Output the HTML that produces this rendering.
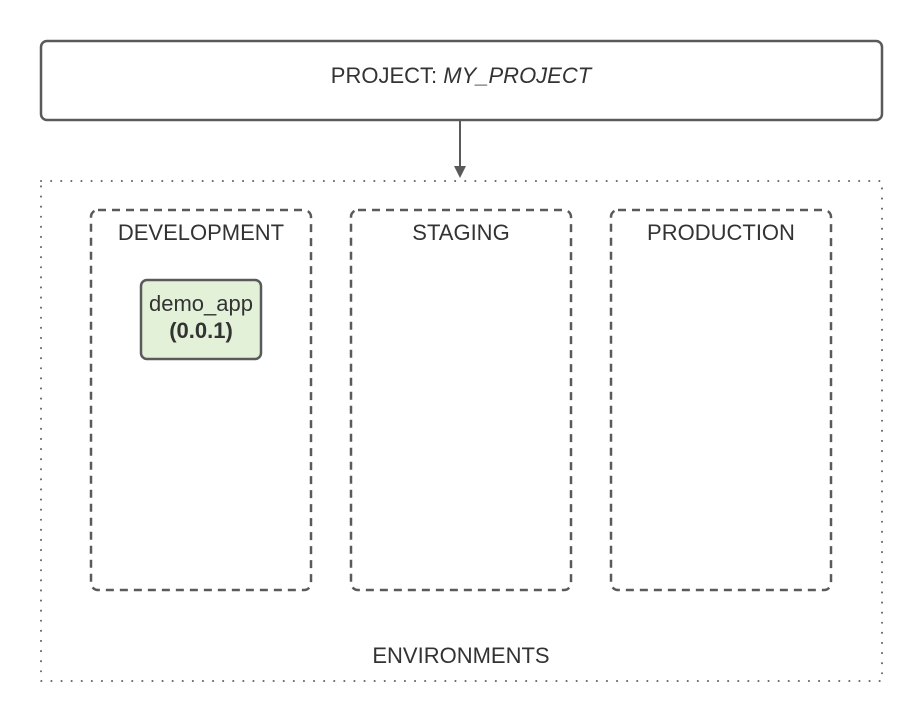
<!DOCTYPE html>
<html><head><style>
body{margin:0;background:#fff;}
svg text{font-family:"Liberation Sans",sans-serif;fill:#333;}
</style></head><body>
<svg width="923" height="722" xmlns="http://www.w3.org/2000/svg">
<rect x="41" y="41" width="841" height="79" rx="6" fill="#fff" stroke="#5a5a5a" stroke-width="2.5"/>
<text x="461" y="83" font-size="22" text-anchor="middle">PROJECT: <tspan font-style="italic">MY_PROJECT</tspan></text>
<line x1="460" y1="121" x2="460" y2="168" stroke="#5a5a5a" stroke-width="2"/>
<polygon points="454,166 466,166 460,178" fill="#5a5a5a"/>
<rect x="41" y="181" width="841" height="500" fill="none" stroke="#666" stroke-width="2" stroke-dasharray="0.1 10" stroke-linecap="round"/>
<g fill="none" stroke="#5a5a5a" stroke-width="2.5" stroke-dasharray="8 6">
<rect x="91" y="210" width="220" height="380" rx="7"/>
<rect x="351" y="210" width="220" height="380" rx="7"/>
<rect x="611" y="210" width="220" height="380" rx="7"/>
</g>
<text x="201" y="240" font-size="22" text-anchor="middle">DEVELOPMENT</text>
<text x="461" y="240" font-size="22" text-anchor="middle">STAGING</text>
<text x="721" y="240" font-size="22" text-anchor="middle">PRODUCTION</text>
<rect x="141" y="280" width="120" height="79" rx="6" fill="#e3f1d8" stroke="#5a5a5a" stroke-width="2.5"/>
<text x="201" y="311" font-size="22" text-anchor="middle">demo_app</text>
<text x="201" y="338" font-size="22" font-weight="bold" text-anchor="middle">(0.0.1)</text>
<text x="461" y="663" font-size="22" text-anchor="middle">ENVIRONMENTS</text>
</svg>
</body></html>
